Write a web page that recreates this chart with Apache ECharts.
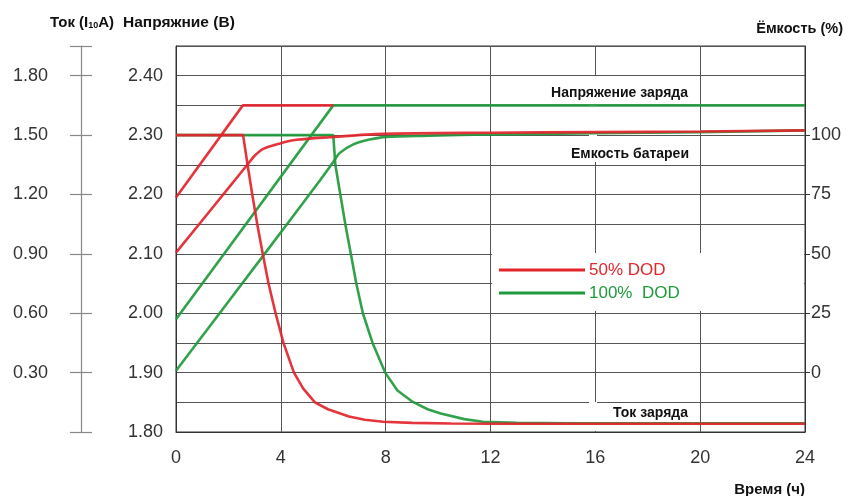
<!DOCTYPE html>
<html>
<head>
<meta charset="utf-8">
<script src="https://cdn.jsdelivr.net/npm/echarts@6/dist/echarts.min.js"></script>
<style>
html,body{margin:0;padding:0;background:#fff;}
#c{width:848px;height:496px;}
</style>
</head>
<body>
<div id="c"></div>
<script>
// ---- data ----
var timeTicks = [0, 4, 8, 12, 16, 20, 24];
var voltageLabels = [1.8, 1.9, 2.0, 2.1, 2.2, 2.3, 2.4];
var currentLabels = [0.3, 0.6, 0.9, 1.2, 1.5, 1.8];
var currentTicks = [0, 0.3, 0.6, 0.9, 1.2, 1.5, 1.8, 1.95];
var capacityLabels = [0, 25, 50, 75, 100];

// charge voltage (V)
var redVoltage = [[0, 2.195], [2.55, 2.35], [6.0, 2.35]];
var greenVoltage = [[0, 1.99], [6.0, 2.35], [24, 2.35]];

// battery capacity (%)
var redCapacity = [[0, 50.5], [2.06, 78.5], [2.72, 87.5], [3.0, 91.3], [3.33, 94.2], [3.97, 96.5],
  [4.6, 98.0], [5.87, 99.1], [7.9, 100.5], [12, 101.0], [16, 101.25], [20, 101.5], [24, 102.0]];
var greenCapacity = [[0, 0.75], [3.38, 50], [5.49, 80.9], [5.99, 88.5], [6.25, 92.5], [6.75, 96.0],
  [7.39, 98.1], [8.03, 99.25], [9.68, 99.75], [12, 100.25], [16, 100.75], [20, 101.25], [24, 102.0]];

// charge current (I10A)
var redCurrent = [[0, 1.50], [2.56, 1.50], [2.73, 1.35], [2.91, 1.20], [3.10, 1.05], [3.31, 0.90],
  [3.53, 0.75], [3.80, 0.60], [4.10, 0.45], [4.50, 0.30], [4.85, 0.22], [5.30, 0.15], [5.80, 0.115],
  [6.60, 0.078], [7.20, 0.062], [7.90, 0.052], [9.0, 0.046], [10.5, 0.043], [12, 0.042], [24, 0.042]];
var greenCurrent = [[0, 1.50], [6.0, 1.50], [6.08, 1.35], [6.27, 1.20], [6.46, 1.05], [6.67, 0.90],
  [6.88, 0.75], [7.13, 0.60], [7.50, 0.45], [7.98, 0.30], [8.45, 0.21], [9.0, 0.155], [9.6, 0.115],
  [10.1, 0.093], [11.0, 0.065], [11.7, 0.052], [13, 0.046], [15, 0.044], [24, 0.044]];

var seriesNames = ['50% DOD', '100%  DOD'];

// ---- chart ----
var RED = '#e3242b', GREEN = '#1f9a3c';
var FONT = 'Liberation Sans, Arial, sans-serif';
var chart = echarts.init(document.getElementById('c'), null, {renderer: 'canvas'});

function lineSeries(name, data, color, yIdx, smooth) {
  return {
    name: name, type: 'line', data: data, yAxisIndex: yIdx,
    symbol: 'none', smooth: smooth || false, silent: true,
    lineStyle: {color: color, width: 2.6, opacity: 0.92}, itemStyle: {color: color},
    animation: false
  };
}

var option = {
  animation: false,
  backgroundColor: '#fff',
  grid: {left: 176, right: 43, top: 46, bottom: 64, show: true, borderColor: '#333', borderWidth: 1},
  xAxis: {
    type: 'value', min: 0, max: 24, interval: 4,
    axisLine: {show: true, lineStyle: {color: '#333'}},
    axisTick: {show: false},
    axisLabel: {fontFamily: FONT, fontSize: 18, color: '#333', margin: 17,
      customValues: timeTicks},
    splitLine: {show: true, lineStyle: {color: '#555', width: 1}}
  },
  yAxis: [
    { // voltage
      type: 'value', position: 'left', min: 1.8, max: 2.45, interval: 0.05,
      axisLine: {show: true, lineStyle: {color: '#333'}},
      axisTick: {show: false},
      axisLabel: {fontFamily: FONT, fontSize: 18, color: '#333', margin: 13,
        customValues: voltageLabels, formatter: function (v) { return v.toFixed(2); }},
      splitLine: {show: true, lineStyle: {color: '#555', width: 1}}
    },
    { // current (outer left)
      type: 'value', position: 'left', offset: 95, min: 0, max: 1.95,
      axisLine: {show: true, lineStyle: {color: '#888', width: 1.2}},
      axisTick: {show: true, length: 11, customValues: currentTicks, lineStyle: {color: '#888', width: 1.2}},
      axisLabel: {fontFamily: FONT, fontSize: 18, color: '#333', margin: 33,
        customValues: currentLabels, formatter: function (v) { return v.toFixed(2); }},
      splitLine: {show: false}
    },
    { // current inner ticks
      type: 'value', position: 'left', offset: 95, min: 0, max: 1.95,
      axisLine: {show: false},
      axisTick: {show: true, inside: true, length: 11, customValues: currentTicks, lineStyle: {color: '#888', width: 1.2}},
      axisLabel: {show: false},
      splitLine: {show: false}
    },
    { // capacity (right)
      type: 'value', position: 'right', min: -25, max: 137.5,
      axisLine: {show: true, lineStyle: {color: '#333'}},
      axisTick: {show: true, length: 5, customValues: capacityLabels, lineStyle: {color: '#333'}},
      axisLabel: {fontFamily: FONT, fontSize: 18, color: '#333', margin: 6,
        customValues: capacityLabels},
      splitLine: {show: false}
    }
  ],
  legend: {
    orient: 'vertical', left: 499, top: 260, padding: 0, z: 10,
    icon: 'rect', itemWidth: 86, itemHeight: 3, itemGap: 3,
    selectedMode: false,
    data: [
      {name: seriesNames[0], textStyle: {color: RED}},
      {name: seriesNames[1], textStyle: {color: GREEN}}
    ],
    textStyle: {fontFamily: FONT, fontSize: 17, lineHeight: 20, padding: [0, 0, 0, -1]}
  },
  series: [
    lineSeries(seriesNames[1], greenVoltage, GREEN, 0),
    lineSeries(seriesNames[1], greenCapacity, GREEN, 3, 0.3),
    lineSeries(seriesNames[1], greenCurrent, GREEN, 1),
    lineSeries(seriesNames[0], redVoltage, RED, 0),
    lineSeries(seriesNames[0], redCapacity, RED, 3, 0.3),
    lineSeries(seriesNames[0], redCurrent, RED, 1)
  ],
  graphic: [
    // white patches over the grid (legend box, label gaps)
    {type: 'rect', z: 1, silent: true, shape: {x: 492, y: 253, width: 312, height: 58}, style: {fill: '#fff'}},
    {type: 'rect', z: 1, silent: true, shape: {x: 589, y: 76, width: 8, height: 86}, style: {fill: '#fff'}},
    {type: 'rect', z: 1, silent: true, shape: {x: 589, y: 402, width: 8, height: 29}, style: {fill: '#fff'}},
    {type: 'text', left: 50, top: 15, style: {
      text: '{a|Ток (I}{s|10}{a|A)}',
      rich: {
        a: {fontFamily: FONT, fontWeight: 'bold', fontSize: 15, fill: '#111', verticalAlign: 'bottom'},
        s: {fontFamily: FONT, fontWeight: 'bold', fontSize: 9, fill: '#111', verticalAlign: 'bottom'}
      }}},
    {type: 'text', left: 123, top: 15, style: {text: 'Напряжние (В)', fontFamily: FONT, fontWeight: 'bold', fontSize: 15.5, fill: '#111'}},
    {type: 'text', right: 5, top: 21, style: {text: 'Ёмкость (%)', fontFamily: FONT, fontWeight: 'bold', fontSize: 14.5, fill: '#111'}},
    {type: 'text', right: 43, top: 482, style: {text: 'Время (ч)', fontFamily: FONT, fontWeight: 'bold', fontSize: 15, fill: '#111'}},
    {type: 'text', right: 160, top: 86, z: 10, style: {text: 'Напряжение заряда', fontFamily: FONT, fontWeight: 'bold', fontSize: 14, fill: '#111'}},
    {type: 'text', right: 159, top: 147, z: 10, style: {text: 'Емкость батареи', fontFamily: FONT, fontWeight: 'bold', fontSize: 14, fill: '#111'}},
    {type: 'text', right: 160, top: 406, z: 10, style: {text: 'Ток заряда', fontFamily: FONT, fontWeight: 'bold', fontSize: 14, fill: '#111'}}
  ]
};
chart.setOption(option);
</script>
</body>
</html>
